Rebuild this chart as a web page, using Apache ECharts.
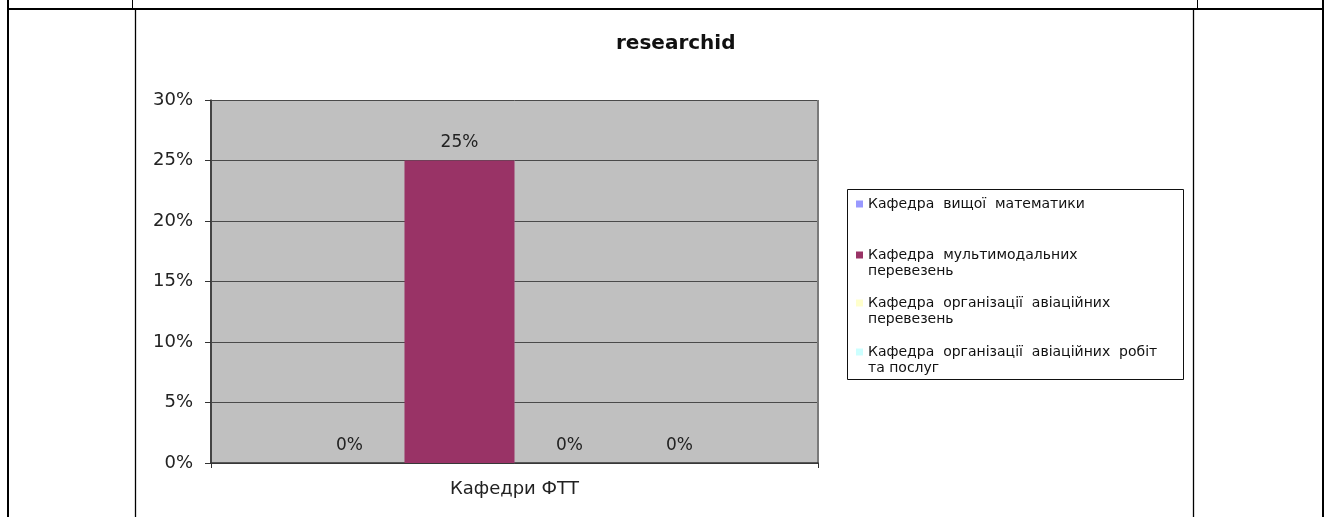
<!DOCTYPE html>
<html>
<head>
<meta charset="utf-8">
<script src="https://cdn.jsdelivr.net/npm/echarts@6/dist/echarts.min.js"></script>
<style>
  html, body { margin: 0; padding: 0; background: #fff; }
  #chart { width: 1329px; height: 517px; }
</style>
</head>
<body>
<div id="chart"></div>
<script>
// дані діаграми
const categories = ['Кафедри ФТТ'];
const seriesNames = [
  'Кафедра вищої математики',
  'Кафедра мультимодальних перевезень',
  'Кафедра організації авіаційних перевезень',
  'Кафедра організації авіаційних робіт та послуг'
];
// як текст легенди переноситься на другий рядок
const legendLines = [
  'Кафедра  вищої  математики',
  'Кафедра  мультимодальних\nперевезень',
  'Кафедра  організації  авіаційних\nперевезень',
  'Кафедра  організації  авіаційних  робіт\nта послуг'
];
const seriesValues = [
  [0],
  [0.25],
  [0],
  [0]
];
const colors = ['#9999FF', '#993366', '#FFFFCC', '#CCFFFF'];
const yTicks = { min: 0, max: 0.3, interval: 0.05 };

const chart = echarts.init(document.getElementById('chart'), null, { renderer: 'canvas' });
const font = '"DejaVu Sans", "Liberation Sans", sans-serif';
const pct = v => Math.round(v * 100) + '%';

// центри першого рядка кожного пункту легенди
const legendCenters = [204, 255, 303, 352];
const lineH = 16;
const legends = seriesNames.map((name, i) => {
  const twoLines = legendLines[i].indexOf('\n') >= 0;
  return {
    data: [name],
    left: 856,
    top: legendCenters[i] - (twoLines ? lineH * 1.5 : lineH / 2),
    padding: 0,
    itemWidth: 7,
    itemHeight: 7,
    itemGap: 0,
    icon: 'rect',
    selectedMode: false,
    // порожній перший рядок, щоб значок стояв навпроти першого рядка тексту
    formatter: () => (twoLines ? '\n' : '') + legendLines[i],
    textStyle: {
      fontFamily: font,
      fontSize: 14,
      color: '#111',
      lineHeight: lineH
    }
  };
});

const option = {
  animation: false,
  color: colors,
  title: {
    text: 'researchid',
    left: 611,
    top: 29,
    textStyle: { fontFamily: font, fontSize: 20, fontWeight: 'bold', color: '#111' }
  },
  legend: legends,
  grid: {
    left: 211, top: 100, width: 607, height: 363,
    show: true, backgroundColor: '#c0c0c0', borderWidth: 0
  },
  xAxis: {
    type: 'category',
    data: categories,
    axisLine: { lineStyle: { color: '#333', width: 1.5 } },
    axisTick: { show: true, length: 5, lineStyle: { color: '#333' } },
    axisLabel: { margin: 17, fontFamily: font, fontSize: 18, color: '#222' },
    splitLine: { show: true, lineStyle: { color: '#7a7a7a', width: 2 } }
  },
  yAxis: {
    type: 'value',
    min: yTicks.min,
    max: yTicks.max,
    interval: yTicks.interval,
    axisLine: { show: true, lineStyle: { color: '#333', width: 1.5 } },
    axisTick: { show: true, length: 6, lineStyle: { color: '#333' } },
    axisLabel: { margin: 18, fontFamily: font, fontSize: 18, color: '#222', formatter: pct },
    splitLine: { show: true, lineStyle: { color: '#4a4a4a', width: 1 } }
  },
  series: seriesNames.map((name, i) => ({
    name: name,
    type: 'bar',
    data: seriesValues[i],
    barGap: '0%',
    barCategoryGap: '27.5%',
    label: {
      show: true,
      position: 'top',
      distance: 9,
      fontFamily: font,
      fontSize: 17,
      color: '#222',
      formatter: p => pct(p.value)
    }
  })),
  graphic: [
    // рамка легенди
    { type: 'rect', shape: { x: 847.5, y: 189.5, width: 336, height: 190 },
      style: { fill: 'none', stroke: '#111', lineWidth: 1 }, z: 0 },
    // лінії таблиці
    { type: 'line', shape: { x1: 7, y1: 9, x2: 1324, y2: 9 }, style: { stroke: '#000', lineWidth: 2 } },
    { type: 'line', shape: { x1: 8, y1: 0, x2: 8, y2: 517 }, style: { stroke: '#000', lineWidth: 2 } },
    { type: 'line', shape: { x1: 1323, y1: 0, x2: 1323, y2: 517 }, style: { stroke: '#000', lineWidth: 2 } },
    { type: 'line', shape: { x1: 132.5, y1: 0, x2: 132.5, y2: 9 }, style: { stroke: '#000', lineWidth: 1 } },
    { type: 'line', shape: { x1: 1197.5, y1: 0, x2: 1197.5, y2: 9 }, style: { stroke: '#000', lineWidth: 1 } },
    { type: 'line', shape: { x1: 135.5, y1: 9, x2: 135.5, y2: 517 }, style: { stroke: '#000', lineWidth: 1.3 } },
    { type: 'line', shape: { x1: 1193.5, y1: 9, x2: 1193.5, y2: 517 }, style: { stroke: '#000', lineWidth: 1.3 } }
  ]
};

chart.setOption(option);
</script>
</body>
</html>
